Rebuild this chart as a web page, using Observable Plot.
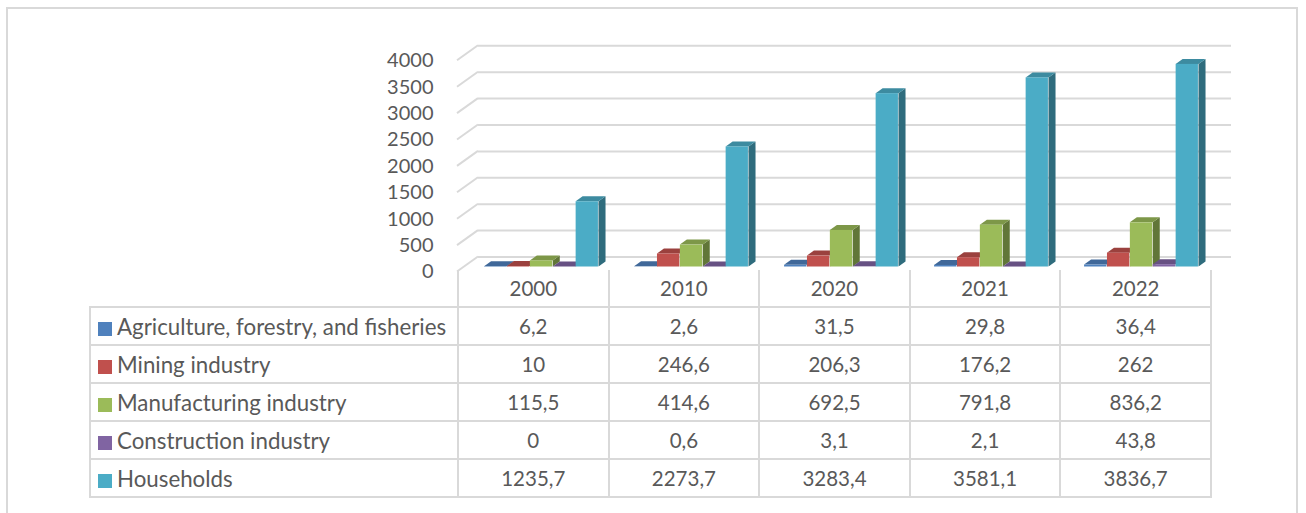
<!DOCTYPE html>
<html>
<head>
<meta charset="utf-8">
<script src="https://cdn.jsdelivr.net/npm/d3@7"></script>
<script src="https://cdn.jsdelivr.net/npm/@observablehq/plot@0.6"></script>
<style>
  html, body { margin: 0; padding: 0; background: #fff; }
  body { width: 1306px; height: 513px; position: relative; overflow: hidden; font-family: Lato, "Open Sans", sans-serif; color: #595959; }
  #frame { position: absolute; left: 6px; top: 7px; width: 1292px; height: 540px; border: 2px solid #d9d9d9; box-sizing: border-box; }
  #chart { position: absolute; left: 0; top: 0; }
  #table { position: absolute; left: 89px; top: 270px; border-collapse: collapse; table-layout: fixed; font-size: 20.5px; color: #595959; }
  #table td { border: 2px solid #d9d9d9; padding: 0; height: 36px; text-align: center; white-space: nowrap; }
  #table tr.head td { border-top: none; }
  #table tr.head td.blank { border-left: none; border-top: none; }
  #table td.lab { text-align: left; padding-left: 7px; font-size: 22.3px; }
  .sw { display: inline-block; width: 14px; height: 14px; margin-right: 5px; vertical-align: -1px; }
</style>
</head>
<body>
<div id="frame"></div>
<div id="chart"></div>
<table id="table"></table>
<script>
const years = ["2000", "2010", "2020", "2021", "2022"];
const seriesNames = ["Agriculture, forestry, and fisheries", "Mining industry", "Manufacturing industry", "Construction industry", "Households"];
const agriculture = [6.2, 2.6, 31.5, 29.8, 36.4];
const mining = [10, 246.6, 206.3, 176.2, 262];
const manufacturing = [115.5, 414.6, 692.5, 791.8, 836.2];
const construction = [0, 0.6, 3.1, 2.1, 43.8];
const households = [1235.7, 2273.7, 3283.4, 3581.1, 3836.7];
const yTicks = [0, 500, 1000, 1500, 2000, 2500, 3000, 3500, 4000];
const colors = ["#4f81bd", "#c0504d", "#9bbb59", "#8064a2", "#4bacc6"];

const seriesValues = [agriculture, mining, manufacturing, construction, households];
const rows = [];
seriesNames.forEach((s, i) => years.forEach((y, j) => rows.push({series: s, si: i, year: y, value: seriesValues[i][j]})));

const W = 1306, H = 280, mL = 457, mR = 96, mT = 60.3, mB = 8.5;
const BW = (W - mL - mR) / years.length;
const padL = BW * 0.12, barW = BW * 0.152;
const dep = {dx: 7, dy: 5};     // bar depth
const wall = {dx: 21, dy: 15};  // back wall offset
const fmt = v => String(v).replace(".", ",");

function faces(si) {
  const col = d3.color(colors[si]);
  const top = col.darker(0.6).formatHex(), side = col.darker(1.3).formatHex();
  return (index, scales) => {
    const g = d3.create("svg:g");
    for (const d of rows.filter(r => r.si === si)) {
      const x0 = scales.x(d.year) + padL + si * barW + dep.dx;
      const x1 = x0 + barW;
      const yt = scales.y(d.value) - dep.dy;
      const yb = scales.y(0) - dep.dy;
      g.append("path")
        .attr("d", `M${x1},${yb}L${x1},${yt}L${x1 + dep.dx},${yt - dep.dy}L${x1 + dep.dx},${yb - dep.dy}Z`)
        .attr("fill", side);
      g.append("path")
        .attr("d", `M${x0},${yt}L${x1},${yt}L${x1 + dep.dx},${yt - dep.dy}L${x0 + dep.dx},${yt - dep.dy}Z`)
        .attr("fill", top);
    }
    return g.node();
  };
}

function wallDiagonals(index, scales, values, dims) {
  const g = d3.create("svg:g").attr("stroke", "#d9d9d9").attr("stroke-width", 2);
  const x0 = dims.marginLeft;
  for (const t of yTicks) {
    const y = scales.y(t);
    g.append("line").attr("x1", x0).attr("y1", y).attr("x2", x0 + wall.dx).attr("y2", y - wall.dy);
  }
  return g.node();
}

const marks = [
  Plot.ruleY(yTicks, {y: d => d, stroke: "#d9d9d9", strokeWidth: 2, dx: wall.dx, dy: -wall.dy}),
  wallDiagonals,
  Plot.text(yTicks, {y: d => d, text: d => String(d), frameAnchor: "left", textAnchor: "end", dx: -24, fill: "#595959", fontSize: 20})
];
seriesNames.forEach((s, i) => {
  marks.push(faces(i));
  marks.push(Plot.barY(rows.filter(r => r.si === i), {
    x: "year", y: "value", fill: colors[i],
    insetLeft: padL + i * barW, insetRight: BW - padL - (i + 1) * barW,
    dx: dep.dx, dy: -dep.dy
  }));
});

const chart = Plot.plot({
  width: W, height: H,
  marginLeft: mL, marginRight: mR, marginTop: mT, marginBottom: mB,
  x: {type: "band", domain: years, padding: 0, axis: null},
  y: {domain: [0, 4000], axis: null},
  style: {background: "transparent", fontFamily: "Lato", overflow: "visible"},
  marks
});
document.getElementById("chart").appendChild(chart);

// data table below the plot
const table = document.getElementById("table");
const colg = document.createElement("colgroup");
const c0 = document.createElement("col"); c0.style.width = "368px"; colg.appendChild(c0);
years.forEach(() => { const c = document.createElement("col"); c.style.width = BW + "px"; colg.appendChild(c); });
table.appendChild(colg);
const head = document.createElement("tr"); head.className = "head";
const blank = document.createElement("td"); blank.className = "blank"; head.appendChild(blank);
years.forEach(y => { const td = document.createElement("td"); td.textContent = y; head.appendChild(td); });
table.appendChild(head);
seriesNames.forEach((s, i) => {
  const tr = document.createElement("tr");
  const lab = document.createElement("td"); lab.className = "lab";
  const sw = document.createElement("span"); sw.className = "sw"; sw.style.background = colors[i];
  lab.appendChild(sw); lab.appendChild(document.createTextNode(s));
  tr.appendChild(lab);
  seriesValues[i].forEach(v => { const td = document.createElement("td"); td.textContent = fmt(v); tr.appendChild(td); });
  table.appendChild(tr);
});
</script>
</body>
</html>
